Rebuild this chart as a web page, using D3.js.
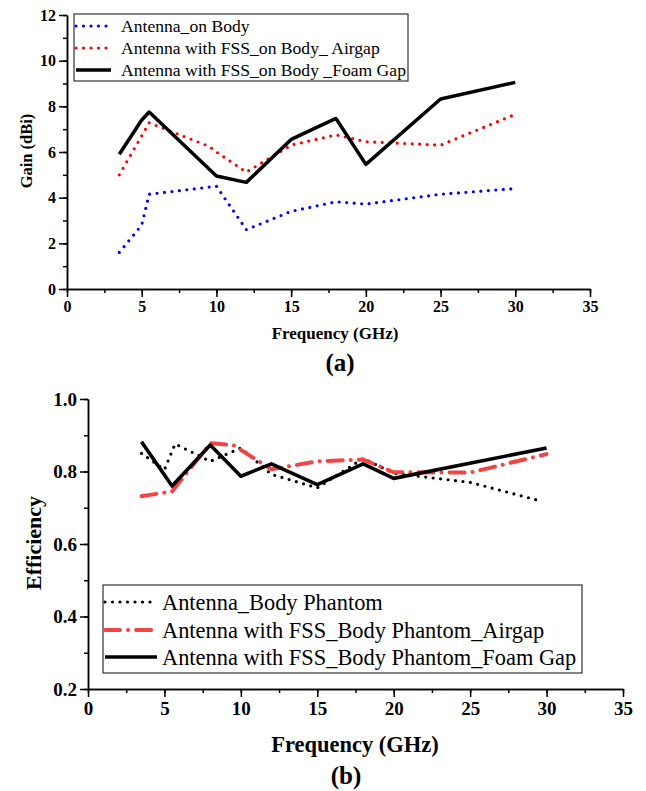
<!DOCTYPE html>
<html lang="en">
<head>
<meta charset="UTF-8">
<title>Gain and Efficiency vs Frequency</title>
<script src="https://d3js.org/d3.v7.min.js"></script>
<style>
  body { margin: 0; background: #fff; }
  svg text { font-family: "Liberation Serif", "Times New Roman", serif; fill: #000; }
  .axis path, .axis line { stroke: #000; stroke-width: 1.5px; }
  .axis text { font-weight: bold; }
</style>
</head>
<body>
<div id="chart"></div>
<script>
// ---- data ----
// (a) gain in dBi
const gainOnBody = [[3.5, 1.6], [5, 2.8], [5.5, 4.15], [10, 4.5], [12, 2.6], [15, 3.4], [18, 3.82], [20, 3.72], [25, 4.15], [30, 4.4]];
const gainAirgap = [[3.5, 5.0], [5.5, 7.28], [9.5, 6.25], [10, 6.0], [12, 5.12], [15, 6.3], [18, 6.75], [20, 6.45], [25, 6.3], [30, 7.65]];
const gainFoam = [[3.5, 5.9], [5, 7.4], [5.5, 7.75], [10, 4.95], [12, 4.67], [15, 6.55], [18, 7.47], [20, 5.46], [25, 8.32], [30, 9.05]];
const gainLabels = ["Antenna_on Body", "Antenna with FSS_on Body_ Airgap", "Antenna with FSS_on Body _Foam Gap"];

// (b) efficiency
const effPhantom = [[3.5, 0.85], [5, 0.805], [5.7, 0.876], [8, 0.828], [10, 0.865], [12, 0.792], [15, 0.755], [18, 0.836], [20, 0.795], [25, 0.77], [29.5, 0.72]];
const effAirgap = [[3.5, 0.732], [5.5, 0.745], [8, 0.878], [9.5, 0.873], [12, 0.806], [15, 0.828], [18, 0.833], [20, 0.798], [25, 0.797], [30, 0.848]];
const effFoam = [[3.5, 0.882], [5.5, 0.76], [8, 0.873], [10, 0.787], [12, 0.821], [15, 0.764], [18, 0.821], [20, 0.781], [30, 0.865]];
const effLabels = ["Antenna_Body Phantom", "Antenna with FSS_Body Phantom_Airgap", "Antenna with FSS_Body Phantom_Foam Gap"];

const freqTicks = [0, 5, 10, 15, 20, 25, 30, 35];
const gainTicks = [0, 2, 4, 6, 8, 10, 12];
const effTicks = [0.2, 0.4, 0.6, 0.8, 1.0];

const W = 646, H = 791;
const svg = d3.select("#chart").append("svg").attr("width", W).attr("height", H);

function drawAxes(g, x, y, opt) {
  const minorX = d3.range(0, 35.01, 2.5);
  // minor ticks first, then major axis on top
  g.append("g").attr("class", "axis").attr("transform", `translate(0,${y.range()[0]})`)
    .call(d3.axisBottom(x).tickValues(minorX).tickSize(4).tickSizeOuter(0).tickFormat(""));
  g.append("g").attr("class", "axis").attr("transform", `translate(${x.range()[0]},0)`)
    .call(d3.axisLeft(y).tickValues(opt.minorY).tickSize(4).tickSizeOuter(0).tickFormat(""));

  const xa = g.append("g").attr("class", "axis").attr("transform", `translate(0,${y.range()[0]})`)
    .call(d3.axisBottom(x).tickValues(freqTicks).tickSize(8).tickSizeOuter(0).tickPadding(opt.xPad));
  xa.selectAll("text").style("font-size", opt.tickFont + "px");
  const ya = g.append("g").attr("class", "axis").attr("transform", `translate(${x.range()[0]},0)`)
    .call(d3.axisLeft(y).tickValues(opt.yTicks).tickSize(8).tickSizeOuter(0).tickPadding(opt.yPad).tickFormat(opt.yFmt));
  ya.selectAll("text").style("font-size", opt.tickFont + "px");
}

function drawLegend(g, box, rows, labels, styles, font) {
  g.append("rect").attr("x", box.x).attr("y", box.y).attr("width", box.w).attr("height", box.h)
    .attr("fill", "#fff").attr("stroke", "#333").attr("stroke-width", 1.2);
  labels.forEach((lab, i) => {
    const s = styles[i];
    g.append("line").attr("x1", box.x + 2).attr("x2", box.x + box.sample).attr("y1", rows[i]).attr("y2", rows[i])
      .attr("stroke", s.color).attr("stroke-width", s.width).attr("stroke-dasharray", s.dash)
      .attr("stroke-linecap", s.cap);
    g.append("text").attr("x", box.x + box.sample + box.gap).attr("y", rows[i]).attr("dy", "0.35em")
      .style("font-size", font + "px").text(lab);
  });
}

function drawSeries(g, x, y, data, s) {
  const line = d3.line().x(d => x(d[0])).y(d => y(d[1]));
  g.append("path").datum(data).attr("d", line).attr("fill", "none")
    .attr("stroke", s.color).attr("stroke-width", s.width).attr("stroke-dasharray", s.dash)
    .attr("stroke-linecap", s.cap).attr("stroke-linejoin", "round");
}

// ---------- (a) ----------
const xa = d3.scaleLinear().domain([0, 35]).range([67, 590]);
const ya = d3.scaleLinear().domain([0, 12]).range([289, 15]);
const ga = svg.append("g");
drawAxes(ga, xa, ya, { minorY: d3.range(0, 12.01, 1), yTicks: gainTicks, yFmt: d3.format("d"), tickFont: 16, xPad: 4, yPad: 3 });

const stylesA = [
  { color: "#0000ff", width: 3.2, dash: "0 7.5", cap: "round" },
  { color: "#ff0000", width: 3.2, dash: "0 7.5", cap: "round" },
  { color: "#000", width: 3.5, dash: null, cap: "butt" }
];
[gainOnBody, gainAirgap, gainFoam].forEach((d, i) => drawSeries(ga, xa, ya, d, stylesA[i]));
drawLegend(ga, { x: 74, y: 14, w: 334, h: 67, sample: 37, gap: 10 }, [26, 48, 70], gainLabels, stylesA, 17.6);

ga.append("text").attr("transform", "translate(32,151) rotate(-90)").attr("text-anchor", "middle")
  .style("font-size", "16.5px").style("font-weight", "bold").text("Gain (dBi)");
ga.append("text").attr("x", 335).attr("y", 339).attr("text-anchor", "middle")
  .style("font-size", "17px").style("font-weight", "bold").text("Frequency (GHz)");
ga.append("text").attr("x", 340).attr("y", 371).attr("text-anchor", "middle")
  .style("font-size", "25px").style("font-weight", "bold").text("(a)");

// ---------- (b) ----------
const xb = d3.scaleLinear().domain([0, 35]).range([88, 623]);
const yb = d3.scaleLinear().domain([0.2, 1.0]).range([689, 399]);
const gb = svg.append("g");
drawAxes(gb, xb, yb, { minorY: d3.range(0.2, 1.001, 0.1), yTicks: effTicks, yFmt: d3.format(".1f"), tickFont: 19, xPad: 5, yPad: 3 });

const stylesB = [
  { color: "#000", width: 3.2, dash: "0 7.5", cap: "round" },
  { color: "#f04545", width: 4, dash: "15 8 0.1 8", cap: "round" },
  { color: "#000", width: 3.6, dash: null, cap: "butt" }
];
[effPhantom, effAirgap, effFoam].forEach((d, i) => drawSeries(gb, xb, yb, d, stylesB[i]));
drawLegend(gb, { x: 103, y: 585, w: 479, h: 88, sample: 54, gap: 5 }, [602, 630, 657], effLabels, stylesB, 22.4);

gb.append("text").attr("transform", "translate(41,543) rotate(-90)").attr("text-anchor", "middle")
  .style("font-size", "22px").style("font-weight", "bold").text("Efficiency");
gb.append("text").attr("x", 355).attr("y", 752).attr("text-anchor", "middle")
  .style("font-size", "22.5px").style("font-weight", "bold").text("Frequency (GHz)");
gb.append("text").attr("x", 346).attr("y", 784).attr("text-anchor", "middle")
  .style("font-size", "25px").style("font-weight", "bold").text("(b)");
</script>
</body>
</html>
